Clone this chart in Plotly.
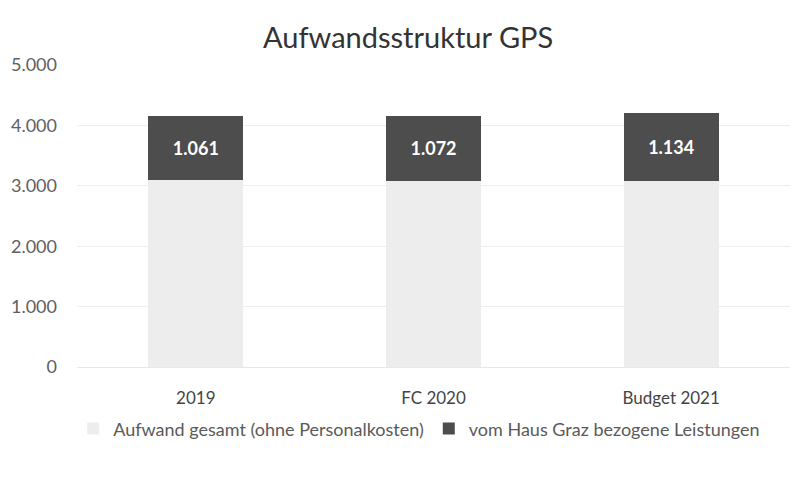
import plotly.graph_objects as go

categories = ["2019", "FC 2020", "Budget 2021"]
aufwand_gesamt = [3095, 3085, 3075]
haus_graz = [1061, 1072, 1134]
y_ticks = [0, 1000, 2000, 3000, 4000, 5000]

FONT = "Lato, Open Sans, sans-serif"

fig = go.Figure()
fig.add_trace(go.Bar(
    x=categories, y=aufwand_gesamt,
    name="Aufwand gesamt (ohne Personalkosten)",
    marker=dict(color="#ededed", line=dict(width=0)),
    hoverinfo="y",
))
fig.add_trace(go.Bar(
    x=categories, y=haus_graz,
    name="vom Haus Graz bezogene Leistungen",
    marker=dict(color="#4d4d4d", line=dict(width=0)),
    text=haus_graz, texttemplate="<b>%{y:,.0f}</b>",
    textposition="inside", insidetextanchor="middle",
    textfont=dict(color="white", size=18, family=FONT),
))

# the page body adds an 8px offset, so the figure is 8px smaller
fig.update_layout(
    barmode="stack",
    bargap=0.6,
    separators=",.",
    width=797, height=474,
    paper_bgcolor="white", plot_bgcolor="white",
    margin=dict(l=69, r=15, t=57, b=115),
    font=dict(family=FONT, color="#555555", size=17),
    title=dict(text="Aufwandsstruktur GPS", x=0.502, xanchor="center",
               y=0.937, yanchor="middle",
               font=dict(size=29, color="#333333", family=FONT)),
    legend=dict(orientation="h", x=0.48, xanchor="center", y=-0.205,
                yanchor="middle", font=dict(size=18, color="#5a5a5a"),
                traceorder="normal", itemwidth=30),
    showlegend=True,
)
fig.update_yaxes(range=[0, 5000], tickvals=y_ticks, tickformat=",.0f",
                 showgrid=True, gridcolor="#eeeeee", zeroline=False,
                 tickfont=dict(size=18, color="#606060"),
                 ticks="", showline=False, ticklabelstandoff=19,
                 automargin=False)
fig.update_xaxes(showline=True, linecolor="#e8e8e8",
                 tickfont=dict(size=17, color="#444444"), ticks="",
                 ticklabelstandoff=16, automargin=False)

fig.write_html("out.html")
